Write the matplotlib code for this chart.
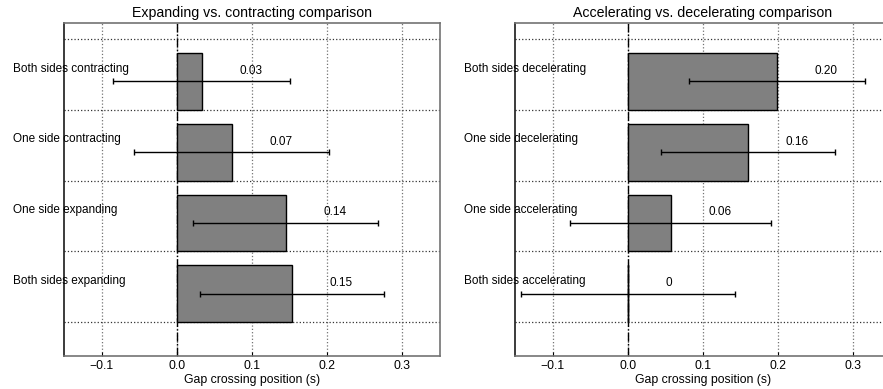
import matplotlib
matplotlib.use("Agg")
import matplotlib.pyplot as plt

plt.rcParams["font.family"] = ["Liberation Sans", "DejaVu Sans"]

# Left panel: expanding vs. contracting
left_labels = ["Both sides expanding", "One side expanding",
               "One side contracting", "Both sides contracting"]
left_means = [0.153, 0.145, 0.073, 0.033]
left_errs = [0.122, 0.123, 0.130, 0.118]
left_texts = ["0.15", "0.14", "0.07", "0.03"]

# Right panel: accelerating vs. decelerating
right_labels = ["Both sides accelerating", "One side accelerating",
                "One side decelerating", "Both sides decelerating"]
right_means = [0.0, 0.057, 0.160, 0.198]
right_errs = [0.142, 0.134, 0.116, 0.117]
right_texts = ["0", "0.06", "0.16", "0.20"]

x_ticks = [-0.1, 0.0, 0.1, 0.2, 0.3]
y_grid = [0, 1, 2, 3, 4]

W, H = 883, 389


def draw_panel(ax, title, labels, means, errs, texts):
    ypos = list(range(len(means)))
    ax.barh(ypos, means, height=0.8, align="edge", color="0.5",
            edgecolor="black", linewidth=1.0, zorder=3)
    for y, m in zip(ypos, means):
        if m == 0:
            ax.plot([0, 0], [y, y + 0.8], color="black", lw=1.0, zorder=4)
    ax.errorbar(means, [y + 0.4 for y in ypos], xerr=errs, fmt="none",
                ecolor="black", elinewidth=1.0, capsize=2, capthick=1.0,
                zorder=5)
    for y, m, t in zip(ypos, means, texts):
        ax.text(m + 0.05, y + 0.55, t, ha="left", va="center",
                fontsize=8.5, zorder=6)
    for y, lab in zip(ypos, labels):
        ax.text(-0.218, y + 0.58, lab, ha="left", va="center",
                fontsize=8.5, zorder=6, clip_on=False)

    ax.axvline(0, color="black", ls="-.", lw=1.0, zorder=2)
    for x in x_ticks:
        ax.axvline(x, color="0.45", ls=":", lw=0.9, zorder=1)
    for y in y_grid:
        ax.axhline(y, color="0.2", ls=":", lw=0.9, zorder=1)

    ax.set_xlim(-0.15, 0.35)
    ax.set_ylim(-0.48, 4.23)
    ax.set_xticks(x_ticks)
    ax.set_xticklabels(["\u22120.1", "0.0", "0.1", "0.2", "0.3"])
    ax.set_yticks([])
    ax.tick_params(axis="x", direction="in", length=3, labelsize=8.8, pad=3)
    ax.set_xlabel("Gap crossing position (s)", fontsize=8.8, labelpad=1)
    ax.set_title(title, fontsize=10.2, pad=4)
    for s in ["top", "bottom", "right"]:
        ax.spines[s].set_color("0.45")
    ax.spines["left"].set_color("0.1")
    for s in ax.spines.values():
        s.set_linewidth(1.2)


fig = plt.figure(figsize=(W / 100, H / 100), dpi=100)
bottom = (H - 356) / H
height = (356 - 22.7) / H
ax_l = fig.add_axes([64 / W, bottom, (440 - 64) / W, height])
ax_r = fig.add_axes([515 / W, bottom, (891 - 515) / W, height])

draw_panel(ax_l, "Expanding vs. contracting comparison",
           left_labels, left_means, left_errs, left_texts)
draw_panel(ax_r, "Accelerating vs. decelerating comparison",
           right_labels, right_means, right_errs, right_texts)

fig.savefig("out.png", dpi=100)
